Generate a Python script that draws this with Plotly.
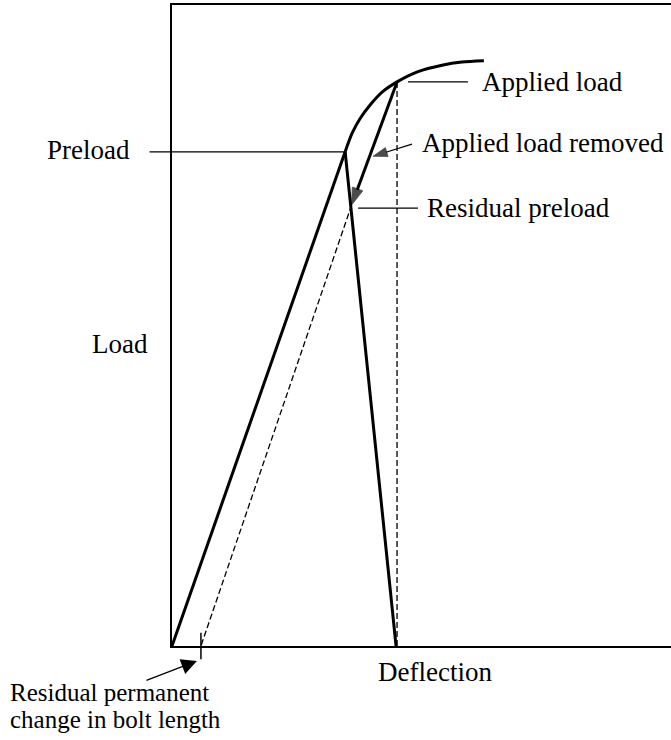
import plotly.graph_objects as go

# ---- data (deflection and load in arbitrary units, 0-100 scale) ----
loading_x = [0.0, 34.7]
loading_y = [0.0, 77.1]

curve_x = [34.7, 36.1, 37.7, 39.7, 42.1, 45.1, 49.3, 54.1, 58.1, 62.5]
curve_y = [77.1, 80.0, 82.3, 84.4, 86.4, 88.0, 89.6, 90.6, 91.1, 91.3]

joint_x = [34.7, 44.9]
joint_y = [77.1, 0.0]

unload_x = [45.1, 36.0]
unload_y = [88.0, 68.8]

residual_x = [36.0, 5.8]
residual_y = [68.8, 0.0]

applied_x = [45.1, 45.1]
applied_y = [88.0, 0.0]

permanent_set_x = [5.8]
permanent_set_y = [0.0]

labels = {
    "applied": "Applied load",
    "removed": "Applied load removed",
    "residual": "Residual preload",
    "preload": "Preload",
    "load": "Load",
    "deflection": "Deflection",
    "perm1": "Residual permanent",
    "perm2": "change in bolt length",
}

FAMILY = "Liberation Serif, Times New Roman, serif"
FONT = dict(family=FAMILY, size=27, color="black")
FONT_SMALL = dict(family=FAMILY, size=25, color="black")
THICK = 3
THIN = 1.3

fig = go.Figure()

# loading line
fig.add_trace(go.Scatter(x=loading_x, y=loading_y, mode="lines",
                         line=dict(color="black", width=THICK)))
# curve beyond preload
fig.add_trace(go.Scatter(x=curve_x, y=curve_y, mode="lines",
                         line=dict(color="black", width=THICK, shape="spline", smoothing=0.8)))
# joint line
fig.add_trace(go.Scatter(x=joint_x, y=joint_y, mode="lines",
                         line=dict(color="black", width=THICK)))
# unloading with arrow head
fig.add_trace(go.Scatter(x=unload_x, y=unload_y, mode="lines+markers",
                         line=dict(color="black", width=THICK),
                         marker=dict(symbol="arrow", size=[0, 18], angleref="previous",
                                     color="black", line=dict(color="black", width=0.8))))
# dashed residual line
fig.add_trace(go.Scatter(x=residual_x, y=residual_y, mode="lines",
                         line=dict(color="black", width=THIN, dash="6px,3px")))
# dashed vertical at applied load
fig.add_trace(go.Scatter(x=applied_x, y=applied_y, mode="lines",
                         line=dict(color="black", width=THIN, dash="6px,3px")))

# leader lines (inside plot)
fig.add_trace(go.Scatter(x=[47.3, 59.3], y=[88.0, 88.0], mode="lines",
                         line=dict(color="black", width=THIN)))
fig.add_trace(go.Scatter(x=[37.3, 49.3], y=[68.3, 68.3], mode="lines",
                         line=dict(color="black", width=THIN)))
# arrow for "Applied load removed"
fig.add_trace(go.Scatter(x=[48.1, 40.3], y=[78.3, 76.4], mode="lines+markers",
                         line=dict(color="black", width=THIN),
                         marker=dict(symbol="arrow", size=[0, 15], angleref="previous",
                                     color="black", line=dict(color="black", width=0.8))))
# permanent-set tick
fig.add_trace(go.Scatter(x=permanent_set_x, y=permanent_set_y, mode="markers", cliponaxis=False,
                         marker=dict(symbol="line-ns", size=19,
                                     line=dict(color="black", width=1.5))))

ann = []
# preload leader crossing the frame
ann.append(dict(x=loading_x[1], y=loading_y[1], ax=-4.8, ay=loading_y[1],
                xref="x", yref="y", axref="x", ayref="y", text="", showarrow=True,
                arrowhead=0, arrowwidth=THIN, arrowcolor="black"))
# permanent change arrow (outside the plot, paper coords + pixel offset)
ann.append(dict(x=0.050, y=-0.0234, ax=-52, ay=20,
                xref="paper", yref="paper", text="", showarrow=True,
                arrowhead=2, arrowsize=2.4, arrowwidth=THIN, arrowcolor="black"))

def txt(x, y, s, xa="left", ref="x", font=FONT):
    return dict(x=x, y=y, xref=ref if ref == "x" else "paper",
                yref="y" if ref == "x" else "paper", text=s, showarrow=False,
                xanchor=xa, yanchor="middle", font=font)

ann.append(txt(61.7, 88.0, labels["applied"]))
ann.append(txt(49.7, 78.5, labels["removed"]))
ann.append(txt(50.7, 68.3, labels["residual"]))
ann.append(txt(-0.080, 0.774, labels["preload"], "right", "paper"))
ann.append(txt(-0.044, 0.471, labels["load"], "right", "paper"))
ann.append(txt(0.527, -0.0406, labels["deflection"], "center", "paper"))
ann.append(txt(-0.3287, -0.0733, labels["perm1"], "left", "paper", FONT_SMALL))
ann.append(txt(-0.3287, -0.1139, labels["perm2"], "left", "paper", FONT_SMALL))

axis_common = dict(showgrid=False, zeroline=False, showticklabels=False, ticks="",
                   showline=True, linecolor="black")
fig.update_layout(
    width=671, height=740,
    margin=dict(l=172, r=0, t=5, b=94),
    paper_bgcolor="white", plot_bgcolor="white",
    showlegend=False,
    annotations=ann,
    xaxis=dict(range=[0, 100], mirror=True, linewidth=2, **axis_common),
    yaxis=dict(range=[0, 100], mirror=False, linewidth=1.5, **axis_common),
)

fig.write_html("out.html", config={"displayModeBar": False},
               post_script="document.body.style.margin='0';")
